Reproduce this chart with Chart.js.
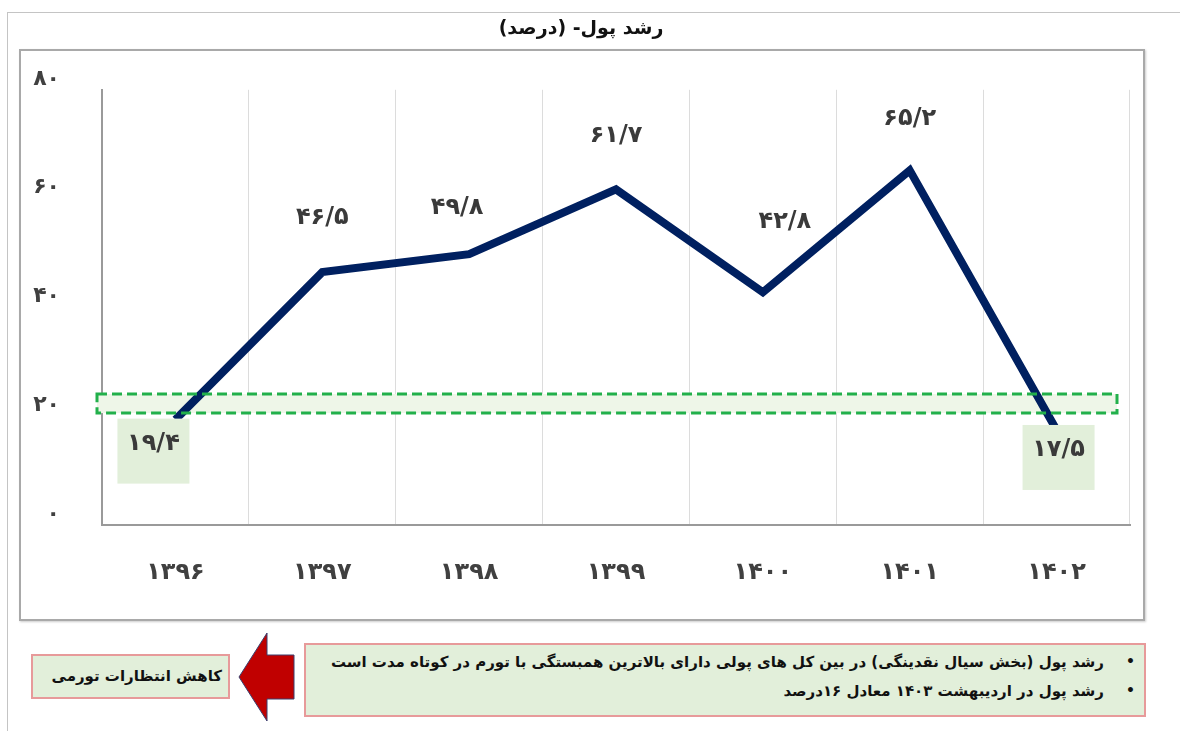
<!DOCTYPE html>
<html lang="fa">
<head>
<meta charset="utf-8">
<script src="https://cdn.jsdelivr.net/npm/chart.js@4.4.1/dist/chart.umd.min.js"></script>
<style>
  body { margin: 0; width: 1180px; height: 731px; background: #fff; position: relative; overflow: hidden; font-family: 'DejaVu Sans', sans-serif; }
  .line-top { position: absolute; left: 7px; top: 12px; width: 1173px; height: 1px; background: #c4c4c4; }
  .line-left { position: absolute; left: 7px; top: 12px; width: 1px; height: 719px; background: #c4c4c4; }
  .inner { position: absolute; left: 19px; top: 49px; width: 1126px; height: 572px; box-sizing: border-box; border: 2px solid #a9a9a9; box-shadow: 1px 1px 2px #ccc; }
  #chart { position: absolute; left: 0; top: 0; }
  .box { position: absolute; box-sizing: border-box; background: #e2efda; border: 2px solid #e79a9a; color: #111; font-weight: bold; direction: rtl; }
  .left-box { left: 31px; top: 654px; width: 199px; height: 45px; font-size: 15px; line-height: 41px; padding-right: 6px; text-align: right; }
  .right-box { left: 304px; top: 643px; width: 842px; height: 74px; font-size: 15px; }
  .right-box .row { position: absolute; right: 40px; white-space: nowrap; }
  .right-box .dot { position: absolute; right: 9px; font-size: 14px; }
  svg { position: absolute; left: 0; top: 0; }
</style>
</head>
<body>
<div class="line-top"></div>
<div class="line-left"></div>
<div class="inner"></div>
<canvas id="chart" width="1180" height="620" dir="rtl"></canvas>

<svg width="1180" height="731">
  <polygon points="239,677 267,633 267,655 294,655 294,699 267,699 267,721" fill="#c00000" stroke="#3b3f6e" stroke-width="1"/>
</svg>
<div class="box left-box">کاهش انتظارات تورمی</div>
<div class="box right-box">
  <span class="dot" style="top:8px">•</span>
  <span class="row" style="top:8px">رشد پول (بخش سیال نقدینگی) در بین کل های پولی دارای بالاترین همبستگی با تورم در کوتاه مدت است</span>
  <span class="dot" style="top:37px">•</span>
  <span class="row" style="top:37px">رشد پول در اردیبهشت ۱۴۰۳ معادل ۱۶درصد</span>
</div>

<script>
// داده ها
const years = ['۱۳۹۶', '۱۳۹۷', '۱۳۹۸', '۱۳۹۹', '۱۴۰۰', '۱۴۰۱', '۱۴۰۲'];
const moneyGrowth = [19.4, 46.5, 49.8, 61.7, 42.8, 65.2, 17.5];
const yTicks = [0, 20, 40, 60, 80];
const targetBand = [20.6, 24.1];   // کادر سبز خط چین
const chartTitle = 'رشد پول- (درصد)';

// تبدیل عدد به ارقام فارسی
function toFa(v) {
    return String(v).replace('.', '/').replace(/\d/g, d => '۰۱۲۳۴۵۶۷۸۹'[d]);
}

// جای برچسب ها نسبت به نقطه
const labelPlace = [
    { dx: -22, dy: 24, box: true },
    { dx: 0, dy: -54 },
    { dx: -12, dy: -46 },
    { dx: 0, dy: -54 },
    { dx: 22, dy: -70 },
    { dx: 0, dy: -52 },
    { dx: 2, dy: 20, box: true }
];

const bandPlugin = {
    id: 'band',
    beforeDatasetsDraw(chart) {
        const { ctx, chartArea, scales } = chart;
        const y1 = scales.y.getPixelForValue(targetBand[1]);
        const y0 = scales.y.getPixelForValue(targetBand[0]);
        ctx.save();
        ctx.fillStyle = '#eef6e8';
        ctx.fillRect(chartArea.left - 5, y1, chartArea.right - 13 - (chartArea.left - 5), y0 - y1);
        ctx.restore();
    },
    afterDatasetsDraw(chart) {
        const { ctx, chartArea, scales } = chart;
        const y1 = scales.y.getPixelForValue(targetBand[1]);
        const y0 = scales.y.getPixelForValue(targetBand[0]);
        ctx.save();
        ctx.strokeStyle = '#22b04b';
        ctx.lineWidth = 3;
        ctx.setLineDash([10, 5]);
        ctx.strokeRect(chartArea.left - 5, y1, chartArea.right - 13 - (chartArea.left - 5), y0 - y1);
        ctx.restore();

        // برچسب مقادیر
        const meta = chart.getDatasetMeta(0);
        ctx.save();
        ctx.font = 'bold 24px "DejaVu Sans"';
        ctx.textAlign = 'center';
        ctx.textBaseline = 'middle';
        meta.data.forEach((pt, i) => {
            const p = labelPlace[i];
            const x = pt.x + p.dx, y = pt.y + p.dy;
            if (p.box) {
                ctx.fillStyle = '#e2efda';
                ctx.fillRect(x - 36, y - 25, 72, 65);
            }
            ctx.fillStyle = '#3a3a3a';
            ctx.fillText(toFa(moneyGrowth[i]), x, y);
        });
        ctx.restore();
    }
};

Chart.defaults.font.family = "'DejaVu Sans'";

new Chart(document.getElementById('chart'), {
    type: 'line',
    data: {
        labels: years,
        datasets: [{
            data: moneyGrowth,
            borderColor: '#002060',
            borderWidth: 8,
            borderJoinStyle: 'miter',
            pointRadius: 0,
            tension: 0
        }]
    },
    options: {
        responsive: false,
        animation: false,
        devicePixelRatio: 1,
        layout: { padding: { left: 32, right: 50, bottom: 0 } },
        plugins: {
            legend: { display: false },
            tooltip: { enabled: false },
            title: {
                display: true,
                text: chartTitle,
                color: '#111',
                font: { size: 19, weight: 'bold' },
                padding: { top: 18, bottom: 49 }
            }
        },
        scales: {
            x: {
                offset: true,
                grid: { display: true, offset: true, color: '#dcdcdc', drawTicks: false },
                border: { display: true, color: '#9a9a9a', width: 2 },
                ticks: { color: '#404040', padding: 33, font: { size: 24, weight: 'bold' } }
            },
            y: {
                min: 0,
                max: 80,
                afterFit(scale) { scale.width = 70; },
                afterBuildTicks(scale) { scale.ticks = yTicks.map(v => ({ value: v })); },
                grid: { display: false, drawTicks: false },
                border: { display: true, color: '#9a9a9a', width: 2 },
                ticks: {
                    color: '#404040',
                    padding: 42,
                    labelOffset: -11,
                    font: { size: 22, weight: 'bold' },
                    callback: v => toFa(v)
                }
            }
        }
    },
    plugins: [bandPlugin]
});
</script>
</body>
</html>
